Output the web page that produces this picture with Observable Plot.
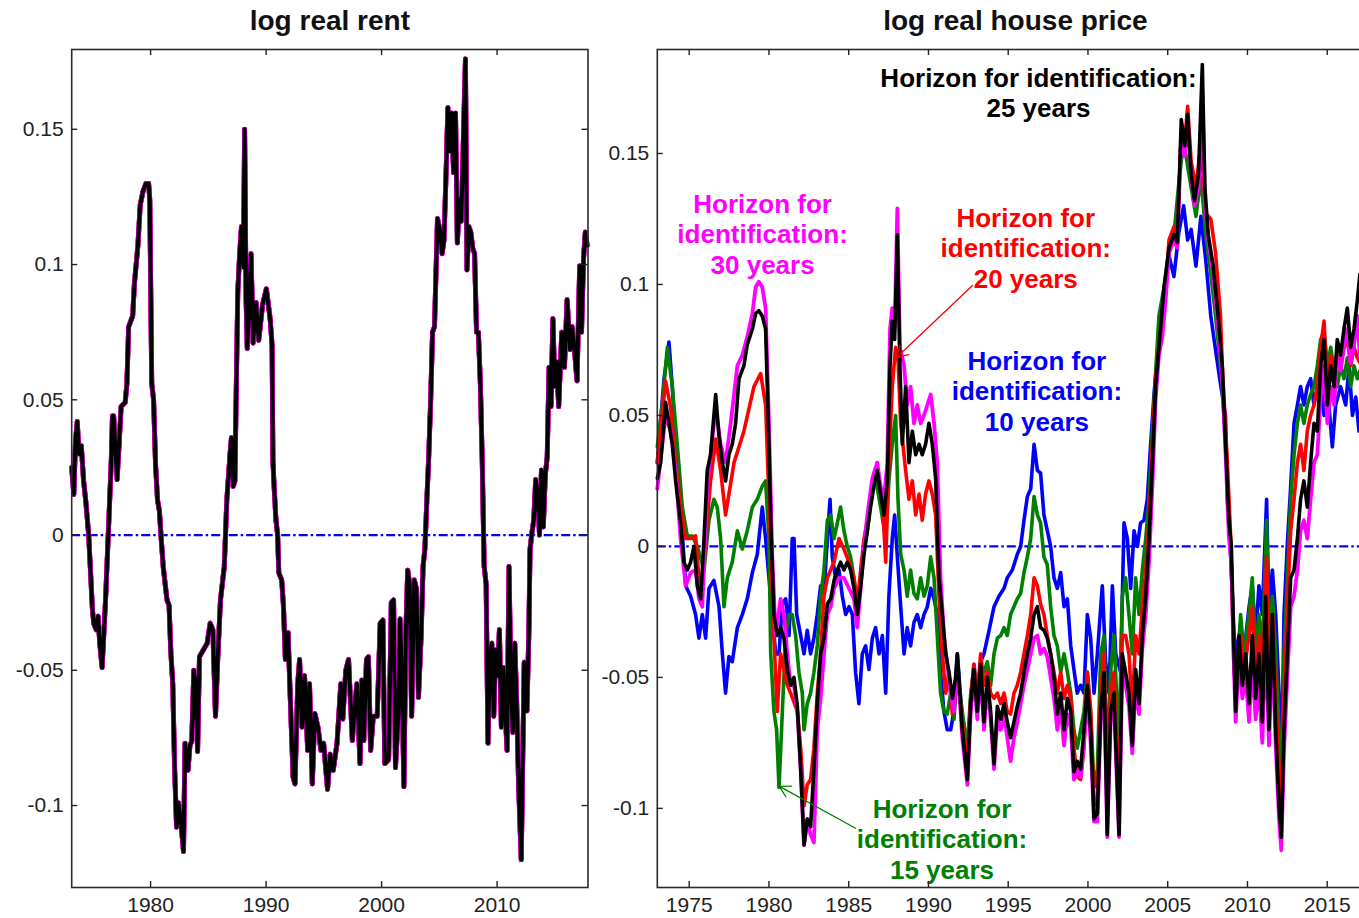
<!DOCTYPE html>
<html>
<head>
<meta charset="utf-8">
<script src="https://cdn.jsdelivr.net/npm/d3@7"></script>
<script src="https://cdn.jsdelivr.net/npm/@observablehq/plot@0.6"></script>
<style>
  html, body { margin: 0; padding: 0; background: #fff; overflow: hidden; width: 1359px; height: 918px; }
  #rent { position: absolute; left: 0; top: 0; width: 600px; }
  #price { position: absolute; left: 600px; top: 0; width: 780px; }
  #rent svg, #price svg { max-width: none; display: block; }
</style>
</head>
<body>
<div id="rent"></div>
<div id="price"></div>
<script>
// ---- Data: [year, value] pairs (log deviations) ----

// Log real rent: the five identification horizons give practically the same path.
const rentPath = [
  [1973.17,0.025],[1973.35,0.015],[1973.5,0.035],[1973.65,0.042],[1973.8,0.030],[1974.0,0.033],[1974.2,0.020],[1974.4,0.012],
  [1974.64,0.000],[1974.97,-0.028],[1975.1,-0.033],[1975.3,-0.035],[1975.45,-0.030],[1975.6,-0.040],[1975.8,-0.049],[1976.1,-0.024],
  [1976.46,0.013],[1976.6,0.028],[1976.7,0.044],[1976.8,0.044],[1977.1,0.0205],[1977.45,0.0475],[1977.8,0.049],[1977.95,0.056],
  [1978.1,0.077],[1978.45,0.081],[1978.6,0.093],[1978.9,0.107],[1979.1,0.122],[1979.34,0.127],[1979.6,0.130],[1979.83,0.130],
  [1979.93,0.124],[1980.1,0.056],[1980.26,0.050],[1980.43,0.026],[1980.6,0.013],[1980.76,0.009],[1980.93,-0.002],[1981.1,-0.012],
  [1981.26,-0.018],[1981.42,-0.024],[1981.6,-0.026],[1981.75,-0.043],[1981.92,-0.055],[1982.08,-0.086],[1982.25,-0.108],[1982.41,-0.099],
  [1982.58,-0.104],[1982.85,-0.117],[1982.98,-0.077],[1983.24,-0.087],[1983.4,-0.078],[1983.57,-0.076],[1983.74,-0.050],[1983.9,-0.055],
  [1984.07,-0.080],[1984.23,-0.045],[1984.56,-0.0425],[1984.9,-0.040],[1985.16,-0.0326],[1985.39,-0.035],[1985.62,-0.067],[1985.82,-0.045],
  [1986.05,-0.024],[1986.38,-0.0116],[1986.6,0.013],[1986.88,0.030],[1987.0,0.036],[1987.15,0.018],[1987.3,0.020],[1987.42,0.055],
  [1987.55,0.090],[1987.7,0.103],[1987.87,0.114],[1988.04,0.099],[1988.14,0.150],[1988.27,0.087],[1988.37,0.069],[1988.53,0.087],
  [1988.7,0.104],[1988.87,0.071],[1989.13,0.086],[1989.36,0.072],[1989.69,0.085],[1990.02,0.091],[1990.35,0.080],[1990.52,0.070],
  [1990.59,0.028],[1990.68,0.019],[1990.85,0.0057],[1991.0,0.000],[1991.1,-0.014],[1991.35,-0.0166],[1991.5,-0.026],[1991.67,-0.046],
  [1991.9,-0.036],[1992.1,-0.061],[1992.34,-0.0895],[1992.5,-0.092],[1992.74,-0.055],[1992.9,-0.046],[1993.1,-0.071],[1993.33,-0.052],
  [1993.6,-0.0796],[1993.76,-0.055],[1994.0,-0.092],[1994.22,-0.066],[1994.49,-0.071],[1994.75,-0.0796],[1994.98,-0.077],[1995.32,-0.094],
  [1995.55,-0.081],[1995.81,-0.087],[1996.14,-0.077],[1996.47,-0.055],[1996.64,-0.068],[1996.9,-0.050],[1997.14,-0.046],[1997.3,-0.061],
  [1997.47,-0.076],[1997.63,-0.066],[1997.86,-0.055],[1998.13,-0.0845],[1998.29,-0.0536],[1998.46,-0.076],[1998.69,-0.046],[1998.86,-0.045],
  [1999.05,-0.0796],[1999.28,-0.067],[1999.62,-0.067],[1999.88,-0.0326],[2000.11,-0.0314],[2000.28,-0.0845],[2000.61,-0.083],[2000.84,-0.025],
  [2001.04,-0.024],[2001.2,-0.086],[2001.44,-0.067],[2001.6,-0.031],[2001.77,-0.055],[2001.93,-0.093],[2002.1,-0.036],[2002.26,-0.013],
  [2002.43,-0.018],[2002.6,-0.067],[2002.83,-0.0166],[2003.02,-0.020],[2003.19,-0.060],[2003.42,-0.0375],[2003.59,-0.0116],[2003.75,-0.005],
  [2003.92,0.013],[2004.08,0.029],[2004.25,0.050],[2004.41,0.075],[2004.58,0.077],[2004.84,0.117],[2005.08,0.112],[2005.24,0.104],
  [2005.4,0.109],[2005.57,0.132],[2005.74,0.158],[2005.9,0.142],[2006.07,0.156],[2006.23,0.134],[2006.4,0.156],[2006.56,0.108],
  [2006.73,0.124],[2006.89,0.116],[2007.06,0.143],[2007.26,0.176],[2007.39,0.098],[2007.56,0.114],[2007.72,0.112],[2007.89,0.106],
  [2008.05,0.104],[2008.22,0.075],[2008.38,0.075],[2008.55,0.056],[2008.71,0.028],[2008.88,-0.0116],[2009.05,-0.018],[2009.21,-0.077],
  [2009.37,-0.046],[2009.54,-0.040],[2009.71,-0.067],[2009.87,-0.0425],[2010.04,-0.052],[2010.2,-0.035],[2010.37,-0.071],[2010.53,-0.049],
  [2010.7,-0.065],[2010.86,-0.0796],[2011.03,-0.0116],[2011.2,-0.055],[2011.36,-0.073],[2011.53,-0.040],[2011.69,-0.061],[2011.86,-0.092],
  [2012.09,-0.120],[2012.25,-0.074],[2012.35,-0.047],[2012.58,-0.065],[2012.75,-0.036],[2012.85,-0.0054],[2013.01,0.0007],[2013.18,0.0057],
  [2013.34,0.0205],[2013.51,0.0156],[2013.67,0.000],[2013.84,0.024],[2014.0,0.003],[2014.17,0.022],[2014.34,0.029],[2014.5,0.062],
  [2014.67,0.0475],[2014.83,0.080],[2015.0,0.055],[2015.16,0.064],[2015.33,0.0475],[2015.6,0.075],[2015.83,0.062],[2016.06,0.087],
  [2016.32,0.0686],[2016.49,0.077],[2016.65,0.071],[2016.92,0.057],[2017.15,0.0995],[2017.31,0.075],[2017.48,0.102],[2017.64,0.112],
  [2017.8,0.107]
];

// Log real house price, horizon for identification: 10 years
const priceH10 = [
  [1973.00,0.032],[1973.42,0.064],[1973.73,0.078],[1973.94,0.061],[1974.15,0.039],[1974.46,0.015],[1974.78,-0.015],[1975.09,-0.019],
  [1975.40,-0.026],[1975.61,-0.035],[1975.82,-0.026],[1976.03,-0.035],[1976.24,-0.016],[1976.55,-0.013],[1976.87,-0.023],[1977.08,-0.041],
  [1977.28,-0.056],[1977.49,-0.042],[1977.70,-0.044],[1978.02,-0.031],[1978.33,-0.026],[1978.64,-0.020],[1978.96,-0.010],[1979.27,-0.003],
  [1979.58,0.015],[1979.79,0.003],[1980.00,-0.012],[1980.21,-0.026],[1980.42,-0.041],[1980.63,-0.041],[1980.84,-0.022],[1981.05,-0.020],
  [1981.26,-0.034],[1981.46,0.003],[1981.57,0.003],[1981.74,-0.026],[1981.99,-0.034],[1982.20,-0.041],[1982.40,-0.032],[1982.61,-0.041],
  [1982.82,-0.035],[1983.03,-0.026],[1983.24,-0.015],[1983.45,-0.018],[1983.66,0.003],[1983.83,0.018],[1983.97,-0.004],[1984.18,-0.012],
  [1984.39,-0.009],[1984.60,-0.019],[1984.81,-0.026],[1985.02,-0.023],[1985.23,-0.026],[1985.43,-0.048],[1985.64,-0.060],[1985.85,-0.041],
  [1986.06,-0.038],[1986.27,-0.047],[1986.48,-0.035],[1986.69,-0.031],[1986.90,-0.041],[1987.11,-0.034],[1987.32,-0.056],[1987.52,-0.019],
  [1987.73,0.003],[1987.88,0.012],[1988.05,-0.004],[1988.26,-0.023],[1988.47,-0.041],[1988.67,-0.031],[1988.88,-0.038],[1989.09,-0.029],
  [1989.30,-0.026],[1989.51,-0.031],[1989.72,-0.026],[1989.93,-0.023],[1990.14,-0.016],[1990.35,-0.020],[1990.55,-0.026],[1990.76,-0.048],
  [1990.97,-0.063],[1991.18,-0.070],[1991.39,-0.070],[1991.60,-0.063],[1991.81,-0.041],[1992.12,-0.066],[1992.44,-0.085],[1992.65,-0.058],
  [1992.85,-0.045],[1993.06,-0.058],[1993.27,-0.044],[1993.48,-0.041],[1993.80,-0.032],[1994.11,-0.023],[1994.42,-0.019],[1994.74,-0.016],
  [1994.94,-0.012],[1995.26,-0.009],[1995.57,-0.003],[1995.78,0.000],[1995.99,0.010],[1996.20,0.019],[1996.41,0.022],[1996.62,0.039],
  [1996.83,0.029],[1997.03,0.028],[1997.24,0.012],[1997.45,0.006],[1997.66,0.000],[1997.87,-0.012],[1998.08,-0.016],[1998.29,-0.010],
  [1998.50,-0.023],[1998.71,-0.020],[1998.92,-0.038],[1999.12,-0.047],[1999.33,-0.056],[1999.54,-0.053],[1999.75,-0.056],[1999.96,-0.026],
  [2000.17,-0.035],[2000.38,-0.056],[2000.59,-0.041],[2000.90,-0.015],[2001.11,-0.044],[2001.32,-0.056],[2001.53,-0.015],[2001.74,-0.041],
  [2002.05,-0.048],[2002.26,0.009],[2002.47,0.003],[2002.68,-0.016],[2002.89,0.006],[2003.10,0.000],[2003.30,0.009],[2003.51,0.010],
  [2003.72,0.018],[2003.93,0.039],[2004.14,0.058],[2004.35,0.073],[2004.56,0.083],[2004.77,0.097],[2005.08,0.111],[2005.39,0.103],
  [2005.70,0.120],[2006.00,0.130],[2006.25,0.117],[2006.47,0.121],[2006.77,0.107],[2007.08,0.126],[2007.39,0.109],[2007.70,0.088],
  [2008.00,0.075],[2008.31,0.062],[2008.62,0.050],[2008.74,0.018],[2008.95,-0.004],[2009.16,-0.034],[2009.37,-0.041],[2009.57,-0.029],
  [2009.78,-0.041],[2010.10,-0.023],[2010.30,-0.015],[2010.51,-0.035],[2010.72,-0.015],[2010.93,-0.026],[2011.20,0.018],[2011.35,-0.026],
  [2011.56,-0.009],[2011.77,-0.026],[2011.98,-0.056],[2012.12,-0.092],[2012.29,-0.026],[2012.50,0.001],[2012.71,0.023],[2012.92,0.047],
  [2013.13,0.054],[2013.33,0.061],[2013.54,0.054],[2013.75,0.061],[2013.96,0.064],[2014.17,0.054],[2014.38,0.061],[2014.59,0.064],
  [2014.80,0.050],[2015.01,0.061],[2015.32,0.038],[2015.53,0.054],[2015.84,0.061],[2016.16,0.054],[2016.37,0.069],[2016.58,0.050],
  [2016.79,0.057],[2016.99,0.044],[2017.05,0.050]
];

// Horizon for identification: 15 years
const priceH15 = [
  [1973.00,0.038],[1973.31,0.054],[1973.63,0.076],[1973.94,0.061],[1974.25,0.039],[1974.57,0.015],[1974.88,0.004],[1975.19,0.004],
  [1975.51,0.000],[1975.93,-0.009],[1976.24,0.010],[1976.55,0.018],[1976.76,0.015],[1976.97,0.003],[1977.18,-0.023],[1977.39,-0.012],
  [1977.70,-0.006],[1978.02,0.006],[1978.33,-0.001],[1978.64,0.006],[1978.96,0.015],[1979.27,0.018],[1979.58,0.023],[1979.79,0.025],
  [1980.00,0.003],[1980.11,-0.041],[1980.31,-0.063],[1980.48,-0.070],[1980.63,-0.092],[1980.84,-0.063],[1981.05,-0.034],[1981.26,-0.026],
  [1981.46,-0.026],[1981.67,-0.034],[1981.88,-0.048],[1982.09,-0.056],[1982.20,-0.070],[1982.40,-0.060],[1982.61,-0.056],[1982.82,-0.048],
  [1983.03,-0.038],[1983.24,-0.019],[1983.45,-0.009],[1983.66,0.010],[1983.87,0.012],[1984.08,0.003],[1984.29,0.009],[1984.49,0.015],
  [1984.70,0.006],[1984.91,0.000],[1985.12,-0.004],[1985.33,-0.012],[1985.54,-0.022],[1985.75,-0.012],[1985.96,-0.001],[1986.17,0.006],
  [1986.48,0.023],[1986.69,0.026],[1987.00,0.015],[1987.32,0.003],[1987.52,0.025],[1987.73,0.039],[1987.94,0.050],[1988.09,0.018],
  [1988.26,-0.003],[1988.47,-0.009],[1988.67,-0.019],[1988.88,-0.009],[1989.09,-0.018],[1989.30,-0.020],[1989.51,-0.012],[1989.72,-0.019],
  [1989.93,-0.015],[1990.14,-0.004],[1990.35,-0.012],[1990.55,-0.034],[1990.76,-0.056],[1990.97,-0.063],[1991.18,-0.064],[1991.39,-0.056],
  [1991.60,-0.066],[1991.81,-0.048],[1992.12,-0.063],[1992.44,-0.077],[1992.65,-0.056],[1992.85,-0.048],[1993.06,-0.056],[1993.27,-0.045],
  [1993.48,-0.048],[1993.69,-0.044],[1993.90,-0.053],[1994.11,-0.041],[1994.32,-0.035],[1994.53,-0.034],[1994.74,-0.031],[1994.94,-0.034],
  [1995.15,-0.026],[1995.36,-0.023],[1995.57,-0.020],[1995.78,-0.018],[1995.99,-0.010],[1996.20,-0.004],[1996.41,0.003],[1996.62,0.019],
  [1996.83,0.012],[1997.03,0.009],[1997.24,-0.004],[1997.45,-0.007],[1997.66,-0.023],[1997.87,-0.034],[1998.08,-0.038],[1998.29,-0.048],
  [1998.50,-0.041],[1998.71,-0.048],[1998.92,-0.056],[1999.12,-0.070],[1999.33,-0.077],[1999.54,-0.070],[1999.75,-0.063],[1999.96,-0.048],
  [2000.17,-0.063],[2000.38,-0.092],[2000.59,-0.085],[2000.80,-0.041],[2001.01,-0.034],[2001.21,-0.085],[2001.42,-0.048],[2001.63,-0.034],
  [2001.95,-0.077],[2002.15,-0.019],[2002.36,-0.012],[2002.57,-0.026],[2002.78,-0.041],[2002.99,-0.012],[2003.20,-0.026],[2003.41,-0.009],
  [2003.62,0.003],[2003.83,0.018],[2004.04,0.044],[2004.24,0.066],[2004.45,0.088],[2004.77,0.099],[2005.08,0.112],[2005.39,0.119],
  [2005.70,0.139],[2006.00,0.155],[2006.25,0.145],[2006.47,0.137],[2006.77,0.126],[2007.08,0.141],[2007.39,0.119],[2007.70,0.104],
  [2008.00,0.088],[2008.31,0.069],[2008.42,0.061],[2008.74,0.025],[2008.95,0.000],[2009.16,-0.041],[2009.37,-0.048],[2009.57,-0.026],
  [2009.78,-0.041],[2010.10,-0.026],[2010.30,-0.012],[2010.51,-0.041],[2010.72,-0.026],[2010.93,-0.041],[2011.20,0.010],[2011.35,-0.041],
  [2011.56,-0.019],[2011.77,-0.041],[2011.98,-0.070],[2012.12,-0.102],[2012.29,-0.041],[2012.50,-0.012],[2012.71,0.018],[2012.92,0.035],
  [2013.13,0.047],[2013.33,0.054],[2013.54,0.047],[2013.75,0.054],[2013.96,0.058],[2014.17,0.061],[2014.38,0.069],[2014.59,0.079],
  [2014.80,0.082],[2015.01,0.069],[2015.22,0.076],[2015.43,0.067],[2015.63,0.061],[2015.84,0.069],[2016.05,0.064],[2016.26,0.072],
  [2016.47,0.061],[2016.68,0.069],[2016.89,0.064],[2017.05,0.067]
];

// Horizon for identification: 20 years
const priceH20 = [
  [1973.00,0.032],[1973.52,0.063],[1973.84,0.053],[1974.15,0.032],[1974.46,0.015],[1974.78,0.003],[1975.09,0.003],[1975.40,0.004],
  [1975.61,-0.012],[1975.82,-0.018],[1976.03,0.003],[1976.34,0.025],[1976.66,0.041],[1976.97,0.029],[1977.28,0.012],[1977.81,0.032],
  [1978.43,0.044],[1979.06,0.061],[1979.48,0.066],[1979.79,0.054],[1980.00,0.018],[1980.31,-0.034],[1980.52,-0.063],[1980.73,-0.041],
  [1981.15,-0.053],[1981.36,-0.056],[1981.78,-0.063],[1981.99,-0.077],[1982.20,-0.099],[1982.40,-0.091],[1982.61,-0.089],[1982.82,-0.077],
  [1983.03,-0.056],[1983.24,-0.041],[1983.45,-0.019],[1983.66,-0.012],[1983.87,-0.009],[1984.08,-0.006],[1984.39,0.003],[1984.70,-0.001],
  [1985.02,-0.006],[1985.33,-0.012],[1985.54,-0.022],[1985.75,-0.009],[1985.96,0.003],[1986.17,0.010],[1986.48,0.023],[1986.79,0.029],
  [1987.11,0.018],[1987.32,-0.006],[1987.52,0.032],[1987.73,0.061],[1987.94,0.076],[1988.09,0.072],[1988.26,0.047],[1988.57,0.029],
  [1988.78,0.018],[1988.99,0.025],[1989.20,0.012],[1989.41,0.020],[1989.61,0.010],[1989.82,0.020],[1990.03,0.025],[1990.24,0.020],
  [1990.45,0.012],[1990.66,-0.019],[1990.87,-0.041],[1991.08,-0.056],[1991.29,-0.048],[1991.50,-0.064],[1991.70,-0.056],[1991.81,-0.048],
  [1992.12,-0.067],[1992.44,-0.082],[1992.65,-0.058],[1992.85,-0.045],[1993.06,-0.058],[1993.27,-0.041],[1993.48,-0.053],[1993.69,-0.048],
  [1993.90,-0.056],[1994.11,-0.058],[1994.32,-0.056],[1994.53,-0.060],[1994.74,-0.056],[1994.94,-0.063],[1995.15,-0.064],[1995.36,-0.056],
  [1995.57,-0.053],[1995.78,-0.048],[1995.99,-0.041],[1996.20,-0.034],[1996.41,-0.026],[1996.62,-0.012],[1996.83,-0.015],[1997.03,-0.022],
  [1997.24,-0.026],[1997.45,-0.034],[1997.66,-0.041],[1997.87,-0.048],[1998.08,-0.056],[1998.29,-0.048],[1998.50,-0.058],[1998.71,-0.053],
  [1998.92,-0.058],[1999.12,-0.077],[1999.33,-0.088],[1999.54,-0.089],[1999.75,-0.077],[1999.96,-0.048],[2000.17,-0.063],[2000.38,-0.099],
  [2000.59,-0.096],[2000.80,-0.056],[2001.01,-0.041],[2001.21,-0.099],[2001.42,-0.056],[2001.63,-0.048],[2001.95,-0.099],[2002.15,-0.034],
  [2002.36,-0.034],[2002.57,-0.041],[2002.78,-0.063],[2002.99,-0.034],[2003.20,-0.041],[2003.41,-0.023],[2003.62,-0.009],[2003.83,0.010],
  [2004.04,0.039],[2004.24,0.064],[2004.45,0.076],[2004.66,0.086],[2004.87,0.097],[2005.08,0.117],[2005.39,0.122],[2005.60,0.119],
  [2005.85,0.158],[2006.07,0.155],[2006.25,0.168],[2006.47,0.147],[2006.77,0.137],[2007.08,0.154],[2007.39,0.127],[2007.70,0.125],
  [2008.00,0.112],[2008.31,0.088],[2008.42,0.069],[2008.74,0.032],[2008.95,0.003],[2009.16,-0.048],[2009.37,-0.056],[2009.57,-0.034],
  [2009.78,-0.048],[2010.10,-0.034],[2010.30,-0.023],[2010.51,-0.053],[2010.72,-0.034],[2010.93,-0.056],[2011.20,-0.004],[2011.35,-0.056],
  [2011.56,-0.026],[2011.77,-0.056],[2011.98,-0.085],[2012.12,-0.107],[2012.29,-0.056],[2012.50,-0.023],[2012.71,0.006],[2012.92,0.018],
  [2013.13,0.032],[2013.33,0.039],[2013.54,0.029],[2013.75,0.044],[2013.96,0.050],[2014.17,0.054],[2014.38,0.061],[2014.59,0.076],
  [2014.80,0.086],[2015.01,0.061],[2015.22,0.073],[2015.43,0.064],[2015.63,0.073],[2015.84,0.069],[2016.05,0.076],[2016.26,0.079],
  [2016.47,0.069],[2016.68,0.076],[2016.89,0.072],[2017.05,0.070]
];

// Horizon for identification: 25 years
const priceH25 = [
  [1973.00,0.026],[1973.21,0.032],[1973.52,0.055],[1973.73,0.047],[1973.94,0.039],[1974.15,0.025],[1974.46,0.009],[1974.67,-0.006],
  [1974.88,-0.009],[1975.09,-0.006],[1975.30,0.000],[1975.51,-0.015],[1975.72,-0.020],[1975.93,0.003],[1976.13,0.029],[1976.34,0.035],
  [1976.66,0.058],[1976.87,0.042],[1977.08,0.032],[1977.28,0.025],[1977.49,0.035],[1977.70,0.039],[1977.91,0.047],[1978.12,0.064],
  [1978.43,0.069],[1978.64,0.077],[1978.96,0.083],[1979.17,0.089],[1979.37,0.090],[1979.58,0.088],[1979.79,0.083],[1980.00,0.039],
  [1980.11,0.010],[1980.31,-0.026],[1980.52,-0.034],[1980.73,-0.031],[1980.94,-0.035],[1981.15,-0.047],[1981.36,-0.053],[1981.57,-0.050],
  [1981.78,-0.061],[1981.99,-0.085],[1982.20,-0.114],[1982.40,-0.104],[1982.61,-0.107],[1982.82,-0.085],[1983.03,-0.060],[1983.24,-0.041],
  [1983.45,-0.035],[1983.66,-0.022],[1983.87,-0.020],[1984.08,-0.013],[1984.29,-0.009],[1984.49,-0.006],[1984.70,-0.009],[1984.91,-0.006],
  [1985.12,-0.009],[1985.33,-0.016],[1985.54,-0.026],[1985.75,-0.015],[1985.96,-0.003],[1986.17,0.006],[1986.37,0.015],[1986.58,0.023],
  [1986.79,0.029],[1987.00,0.020],[1987.21,0.012],[1987.42,0.025],[1987.59,0.069],[1987.73,0.086],[1987.88,0.079],[1988.05,0.119],
  [1988.21,0.069],[1988.36,0.039],[1988.57,0.061],[1988.78,0.032],[1988.99,0.044],[1989.20,0.035],[1989.41,0.039],[1989.61,0.035],
  [1989.82,0.039],[1990.03,0.047],[1990.24,0.039],[1990.45,0.026],[1990.66,-0.012],[1990.87,-0.026],[1991.08,-0.041],[1991.29,-0.048],
  [1991.50,-0.058],[1991.70,-0.050],[1991.81,-0.041],[1992.12,-0.070],[1992.44,-0.089],[1992.65,-0.060],[1992.85,-0.047],[1993.06,-0.063],
  [1993.27,-0.045],[1993.48,-0.067],[1993.69,-0.050],[1993.90,-0.063],[1994.11,-0.083],[1994.32,-0.061],[1994.53,-0.066],[1994.74,-0.060],
  [1994.94,-0.067],[1995.15,-0.073],[1995.36,-0.067],[1995.57,-0.061],[1995.78,-0.056],[1995.99,-0.048],[1996.20,-0.041],[1996.41,-0.035],
  [1996.62,-0.026],[1996.83,-0.023],[1997.03,-0.031],[1997.24,-0.032],[1997.45,-0.035],[1997.66,-0.041],[1997.87,-0.050],[1998.08,-0.064],
  [1998.29,-0.056],[1998.50,-0.070],[1998.71,-0.058],[1998.92,-0.063],[1999.12,-0.086],[1999.33,-0.082],[1999.54,-0.085],[1999.75,-0.070],
  [1999.96,-0.053],[2000.17,-0.070],[2000.38,-0.104],[2000.59,-0.102],[2000.80,-0.063],[2001.01,-0.048],[2001.21,-0.110],[2001.42,-0.063],
  [2001.63,-0.056],[2001.95,-0.110],[2002.15,-0.041],[2002.36,-0.048],[2002.57,-0.056],[2002.78,-0.076],[2002.99,-0.047],[2003.20,-0.060],
  [2003.41,-0.034],[2003.62,-0.019],[2003.83,0.003],[2004.04,0.032],[2004.24,0.061],[2004.45,0.076],[2004.77,0.099],[2005.08,0.114],
  [2005.39,0.119],[2005.60,0.116],[2005.85,0.163],[2006.07,0.153],[2006.25,0.165],[2006.47,0.142],[2006.68,0.132],[2006.93,0.142],
  [2007.17,0.184],[2007.33,0.137],[2007.54,0.119],[2007.85,0.107],[2008.16,0.088],[2008.42,0.069],[2008.63,0.039],[2008.84,0.010],
  [2008.99,0.000],[2009.16,-0.041],[2009.26,-0.063],[2009.47,-0.034],[2009.68,-0.053],[2009.89,-0.041],[2010.10,-0.060],[2010.30,-0.034],
  [2010.51,-0.058],[2010.72,-0.041],[2010.93,-0.067],[2011.14,-0.019],[2011.35,-0.070],[2011.56,-0.026],[2011.77,-0.070],[2011.98,-0.099],
  [2012.12,-0.111],[2012.29,-0.070],[2012.50,-0.041],[2012.71,-0.012],[2012.92,-0.009],[2013.13,0.003],[2013.33,0.018],[2013.54,0.025],
  [2013.75,0.015],[2013.96,0.032],[2014.17,0.047],[2014.38,0.044],[2014.59,0.069],[2014.80,0.079],[2015.01,0.054],[2015.22,0.069],
  [2015.43,0.061],[2015.63,0.079],[2015.84,0.073],[2016.05,0.083],[2016.26,0.091],[2016.47,0.076],[2016.68,0.083],[2016.89,0.094],
  [2017.05,0.104]
];

// Horizon for identification: 30 years
const priceH30 = [
  [1973.00,0.022],[1973.52,0.050],[1973.84,0.044],[1974.15,0.029],[1974.46,0.003],[1974.78,-0.015],[1975.09,-0.010],[1975.40,-0.009],
  [1975.61,-0.020],[1975.82,-0.023],[1976.13,0.023],[1976.66,0.053],[1976.97,0.039],[1977.28,0.032],[1977.60,0.047],[1978.02,0.069],
  [1978.33,0.073],[1978.64,0.080],[1978.96,0.089],[1979.17,0.099],[1979.37,0.101],[1979.58,0.099],[1979.79,0.091],[1980.00,0.047],
  [1980.21,-0.004],[1980.42,-0.034],[1980.73,-0.020],[1980.94,-0.026],[1981.15,-0.041],[1981.36,-0.053],[1981.57,-0.053],[1981.78,-0.063],
  [1981.99,-0.085],[1982.20,-0.114],[1982.40,-0.105],[1982.61,-0.110],[1982.82,-0.113],[1983.03,-0.070],[1983.24,-0.058],[1983.45,-0.041],
  [1983.66,-0.026],[1983.87,-0.023],[1984.08,-0.016],[1984.39,-0.012],[1984.70,-0.012],[1985.02,-0.016],[1985.33,-0.020],[1985.54,-0.031],
  [1985.75,-0.016],[1985.96,0.000],[1986.17,0.012],[1986.48,0.026],[1986.79,0.032],[1987.00,0.023],[1987.21,0.018],[1987.42,0.032],
  [1987.59,0.083],[1987.73,0.091],[1987.88,0.083],[1988.05,0.129],[1988.21,0.076],[1988.47,0.069],[1988.67,0.054],[1988.88,0.061],
  [1989.09,0.047],[1989.30,0.054],[1989.51,0.047],[1989.72,0.050],[1989.93,0.054],[1990.14,0.058],[1990.35,0.047],[1990.55,0.032],
  [1990.76,-0.012],[1990.97,-0.034],[1991.18,-0.045],[1991.39,-0.056],[1991.60,-0.063],[1991.81,-0.044],[1992.12,-0.073],[1992.44,-0.091],
  [1992.65,-0.063],[1992.85,-0.050],[1993.06,-0.066],[1993.27,-0.048],[1993.48,-0.070],[1993.69,-0.053],[1993.90,-0.066],[1994.11,-0.085],
  [1994.32,-0.066],[1994.53,-0.070],[1994.74,-0.064],[1994.94,-0.073],[1995.15,-0.082],[1995.36,-0.073],[1995.57,-0.067],[1995.78,-0.060],
  [1995.99,-0.053],[1996.20,-0.047],[1996.41,-0.041],[1996.62,-0.035],[1996.83,-0.034],[1997.03,-0.041],[1997.24,-0.039],[1997.45,-0.042],
  [1997.66,-0.050],[1997.87,-0.058],[1998.08,-0.070],[1998.29,-0.061],[1998.50,-0.076],[1998.71,-0.064],[1998.92,-0.069],[1999.12,-0.089],
  [1999.33,-0.085],[1999.54,-0.088],[1999.75,-0.075],[1999.96,-0.057],[2000.17,-0.075],[2000.38,-0.105],[2000.59,-0.105],[2000.80,-0.067],
  [2001.01,-0.053],[2001.21,-0.111],[2001.42,-0.067],[2001.63,-0.060],[2001.95,-0.111],[2002.15,-0.047],[2002.36,-0.053],[2002.57,-0.061],
  [2002.78,-0.079],[2002.99,-0.053],[2003.20,-0.064],[2003.41,-0.039],[2003.62,-0.026],[2003.83,-0.006],[2004.04,0.023],[2004.24,0.056],
  [2004.45,0.073],[2004.66,0.080],[2004.87,0.094],[2005.08,0.112],[2005.39,0.117],[2005.60,0.114],[2005.85,0.158],[2006.07,0.149],
  [2006.25,0.163],[2006.47,0.142],[2006.68,0.130],[2006.93,0.137],[2007.17,0.173],[2007.33,0.132],[2007.54,0.117],[2007.85,0.104],
  [2008.16,0.084],[2008.42,0.064],[2008.63,0.035],[2008.84,0.003],[2008.99,-0.006],[2009.16,-0.048],[2009.26,-0.067],[2009.47,-0.041],
  [2009.68,-0.058],[2009.89,-0.050],[2010.10,-0.067],[2010.30,-0.044],[2010.51,-0.066],[2010.72,-0.053],[2010.93,-0.075],[2011.14,-0.034],
  [2011.35,-0.076],[2011.56,-0.038],[2011.77,-0.076],[2011.98,-0.104],[2012.12,-0.116],[2012.29,-0.078],[2012.50,-0.050],[2012.71,-0.023],
  [2012.92,-0.019],[2013.13,-0.009],[2013.33,0.006],[2013.54,0.010],[2013.75,0.003],[2013.96,0.018],[2014.17,0.032],[2014.38,0.035],
  [2014.59,0.057],[2014.80,0.069],[2015.01,0.047],[2015.22,0.061],[2015.43,0.054],[2015.63,0.072],[2015.84,0.067],[2016.05,0.076],
  [2016.26,0.083],[2016.47,0.070],[2016.68,0.077],[2016.89,0.088],[2017.05,0.072]
];

// Tick values
const rentYearTicks = [1980, 1990, 2000, 2010];
const priceYearTicks = [1975, 1980, 1985, 1990, 1995, 2000, 2005, 2010, 2015];
const valueTicks = [-0.1, -0.05, 0, 0.05, 0.1, 0.15];

// Panel titles and callout texts
const panelTitles = ["log real rent", "log real house price"];
const horizonNotes = [
  "Horizon for identification:\n25 years",
  "Horizon for\nidentification:\n30 years",
  "Horizon for\nidentification:\n20 years",
  "Horizon for\nidentification:\n10 years",
  "Horizon for\nidentification:\n15 years"
];

// ---- Drawing ----
const FONT = '"Liberation Sans", Arial, Helvetica, sans-serif';
const COLORS = {h10: "#0000ff", h15: "#008000", h20: "#ff0000", h25: "#000000", h30: "#ff00ff"};
const TOP = 49, BOTTOM = 31, HEIGHT = 918;

function panel({width, marginLeft, marginRight, xDomain, yDomain, xTicks, title, titleDx, lines, extras = []}) {
  const frameW = width - marginLeft - marginRight;
  const frameH = HEIGHT - TOP - BOTTOM;
  const tickStyle = {stroke: "#222", strokeWidth: 1.4};
  return Plot.plot({
    width, height: HEIGHT,
    marginTop: TOP, marginBottom: BOTTOM, marginLeft, marginRight,
    x: {domain: xDomain},
    y: {domain: yDomain},
    style: {fontFamily: FONT, fontSize: "21px", color: "#222", background: "white", overflow: "visible"},
    marks: [
      Plot.ruleY([0], {stroke: "#0000ff", strokeWidth: 2.2, strokeDasharray: "9,3,2.5,3"}),
      ...lines.map(s => Plot.line(s.data, {
        x: d => d[0], y: d => d[1], stroke: s.color, strokeWidth: s.width,
        strokeLinejoin: "round", strokeLinecap: "round"
      })),
      ...extras,
      Plot.frame({stroke: "#2a2a2a", strokeWidth: 1.6}),
      Plot.tickY(valueTicks, {y: d => d, insetRight: frameW - 6, ...tickStyle}),
      Plot.tickY(valueTicks, {y: d => d, insetLeft: frameW - 6, ...tickStyle}),
      Plot.tickX(xTicks, {x: d => d, insetTop: frameH - 6, ...tickStyle}),
      Plot.tickX(xTicks, {x: d => d, insetBottom: frameH - 6, ...tickStyle}),
      Plot.axisY({ticks: valueTicks, tickSize: 0, tickPadding: 8, tickFormat: d => String(d), label: null, fill: "#222"}),
      Plot.axisX({ticks: xTicks, tickSize: 0, tickPadding: 10, tickFormat: d => String(d), label: null, fill: "#222"}),
      Plot.text([title], {frameAnchor: "top", lineAnchor: "middle", dy: -28, dx: titleDx, fontSize: 28, fontWeight: "bold", fill: "#111"})
    ]
  });
}

// Left panel: log real rent (all horizons overlap; black drawn last)
const rentLines = [
  {data: rentPath, color: COLORS.h10, width: 4.8},
  {data: rentPath, color: COLORS.h15, width: 4.8},
  {data: rentPath, color: COLORS.h20, width: 4.8},
  {data: rentPath, color: COLORS.h30, width: 5.0},
  {data: rentPath, color: COLORS.h25, width: 4.0}
];
document.getElementById("rent").appendChild(panel({
  width: 600, marginLeft: 71.2, marginRight: 12.5,
  xDomain: [1973.17, 2017.87], yDomain: [-0.1303, 0.1795],
  xTicks: rentYearTicks, title: panelTitles[0], titleDx: 0, lines: rentLines
}));

// Right panel: log real house price by identification horizon
const priceLines = [
  {data: priceH10, color: COLORS.h10, width: 3.6},
  {data: priceH15, color: COLORS.h15, width: 3.6},
  {data: priceH20, color: COLORS.h20, width: 3.6},
  {data: priceH30, color: COLORS.h30, width: 3.8},
  {data: priceH25, color: COLORS.h25, width: 3.6}
];

// Callout placement in the panel's own year/value coordinates
const notePlacement = [
  {x: 1996.9, y: 0.1733, color: COLORS.h25},
  {x: 1979.6, y: 0.1195, color: COLORS.h30},
  {x: 1996.1, y: 0.1141, color: COLORS.h20},
  {x: 1996.8, y: 0.0595, color: COLORS.h10},
  {x: 1990.85, y: -0.1115, color: COLORS.h15}
];
const noteMarks = horizonNotes.map((t, i) => Plot.text([t], {
  x: notePlacement[i].x, y: notePlacement[i].y, text: d => d,
  fill: notePlacement[i].color, fontSize: 26, fontWeight: "bold",
  lineHeight: 1.17, lineAnchor: "middle", textAnchor: "middle"
}));
const pointerMarks = [
  Plot.arrow([0], {x1: 1992.76, y1: 0.0996, x2: 1988.0, y2: 0.0721, stroke: COLORS.h20, strokeWidth: 1.3, headLength: 14}),
  Plot.arrow([0], {x1: 1985.43, y1: -0.1076, x2: 1980.66, y2: -0.0916, stroke: COLORS.h15, strokeWidth: 1.3, headLength: 14})
];

document.getElementById("price").appendChild(panel({
  width: 780, marginLeft: 56.8, marginRight: 15,
  xDomain: [1973, 2017.40], yDomain: [-0.1302, 0.1897],
  xTicks: priceYearTicks, title: panelTitles[1], titleDx: 4, lines: priceLines,
  extras: [...pointerMarks, ...noteMarks]
}));
</script>
</body>
</html>
